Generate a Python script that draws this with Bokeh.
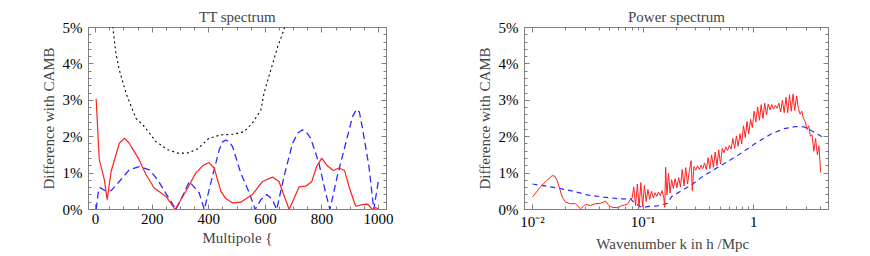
from bokeh.plotting import figure
from bokeh.layouts import row
from bokeh.models import (SingleIntervalTicker, FixedTicker, LinearAxis, LogAxis,
                          PrintfTickFormatter, CustomJSTickFormatter, Range1d)
from bokeh.embed import file_html
from bokeh.resources import INLINE

# ---------------- data: TT spectrum ----------------
ell_red = [2, 13, 31, 41, 55, 84, 102, 119, 154, 178, 207, 249, 281, 319, 354, 378, 401,
           419, 443, 460, 484, 513, 554, 590, 625, 648, 684, 719, 743, 764, 781, 799,
           819, 840, 860, 880, 895, 919, 948, 962, 978, 988, 1000]
tt_red = [3.04, 1.37, 0.82, 0.27, 1.05, 1.82, 1.96, 1.82, 1.37, 0.96, 0.59, 0.36, 0.0,
          0.50, 1.00, 1.20, 1.29, 1.14, 0.50, 0.30, 0.18, 0.20, 0.41, 0.77, 0.89, 0.77,
          0.0, 0.62, 0.64, 0.77, 1.18, 1.41, 1.20, 1.07, 1.14, 1.07, 0.64, 0.09, 0.14,
          0.15, 0.0, 0.05, 0.02]

ell_blue = [2, 11, 16, 37, 55, 84, 119, 154, 190, 219, 255, 284, 313, 331, 366, 384,
            413, 437, 448, 460, 472, 484, 513, 543, 564, 584, 605, 625, 640, 666, 696,
            715, 731, 745, 760, 789, 813, 828, 854, 884, 908, 922, 932, 942, 966, 983,
            1001]
tt_blue = [0.0, 0.55, 0.60, 0.50, 0.52, 0.77, 1.09, 1.18, 1.09, 0.82, 0.36, 0.0, 0.46,
           0.77, 0.46, 0.0, 0.91, 1.64, 1.85, 1.91, 1.86, 1.73, 1.00, 0.46, 0.0, 0.27,
           0.41, 0.27, 0.0, 0.91, 1.82, 2.10, 2.19, 2.12, 1.96, 1.28, 0.46, 0.0, 0.91,
           1.82, 2.55, 2.75, 2.68, 2.28, 1.18, 0.0, 0.87]

ell_black = [55, 61, 72, 84, 108, 131, 143, 172, 213, 255, 290, 325, 360, 401, 443,
             490, 525, 554, 584, 595, 619, 643, 666, 675]
tt_black = [5.3, 5.0, 4.28, 3.83, 3.19, 2.73, 2.50, 2.28, 1.87, 1.64, 1.55, 1.55, 1.66,
            1.96, 2.05, 2.07, 2.14, 2.37, 2.73, 3.19, 3.83, 4.46, 4.95, 5.3]

# ---------------- data: power spectrum ----------------
log10k_red = [-2.0, -1.928, -1.87, -1.822, -1.80, -1.776, -1.731, -1.701, -1.656, -1.611,
              -1.566, -1.520, -1.475, -1.430, -1.385, -1.339, -1.309, -1.279, -1.233,
              -1.188, -1.143, -1.113,
              -1.100, -1.084, -1.068, -1.052, -1.036, -1.020, -1.004, -0.988,
              -0.972, -0.956, -0.940, -0.924, -0.908, -0.892, -0.876,
              -0.860, -0.844, -0.828, -0.812, -0.804, -0.796, -0.784, -0.770, -0.756,
              -0.742, -0.726, -0.710, -0.694, -0.678,
              -0.662, -0.646, -0.630, -0.614, -0.598, -0.582, -0.566, -0.555,
              -0.540, -0.524, -0.508, -0.492, -0.476, -0.460, -0.444, -0.428,
              -0.412, -0.396, -0.380, -0.364, -0.348, -0.332, -0.316, -0.300, -0.284,
              -0.268, -0.252, -0.236, -0.220,
              -0.204, -0.188, -0.172, -0.156, -0.140, -0.124, -0.108,
              -0.092, -0.076, -0.060, -0.044, -0.028,
              -0.012, 0.004, 0.020, 0.036, 0.052, 0.068, 0.084, 0.100, 0.116,
              0.132, 0.148, 0.164, 0.180, 0.196, 0.212, 0.228,
              0.244, 0.260, 0.276, 0.292, 0.308, 0.324, 0.340, 0.356, 0.372, 0.388,
              0.404, 0.420, 0.436, 0.450,
              0.466, 0.482, 0.498, 0.512,
              0.528, 0.544, 0.560, 0.576, 0.590, 0.600, 0.606]
pk_red = [0.34, 0.62, 0.80, 0.93, 0.92, 0.79, 0.34, 0.20, 0.16, 0.16,
          0.02, 0.14, 0.11, 0.16, 0.17, 0.23, 0.11, 0.06, 0.05,
          0.11, 0.14, 0.29,
          0.30, 0.62, 0.10, 0.70, 0.06, 0.74, 0.08, 0.66,
          0.22, 0.55, 0.28, 0.50, 0.32, 0.46, 0.36,
          0.48, 0.38, 0.52, 0.30, 0.06, 1.16, 0.40, 1.00, 0.45,
          0.82, 0.58, 0.85, 0.60, 0.88,
          0.62, 1.10, 0.65, 1.15, 0.70, 1.05, 1.34, 0.52,
          1.18, 1.08, 1.20, 1.10, 1.22, 1.12, 1.28, 1.10,
          1.42, 1.12, 1.50, 1.16, 1.58, 1.20, 1.64, 1.25, 1.68,
          1.56, 1.72, 1.62, 1.76,
          1.66, 1.95, 1.68, 2.02, 1.74, 2.08, 1.80,
          2.30, 1.98, 2.42, 2.08, 2.48,
          2.25, 2.70, 2.40, 2.82, 2.45, 2.88, 2.50, 2.92, 2.60,
          2.90, 2.74, 2.88, 2.76, 2.86, 2.78, 2.92,
          2.68, 3.00, 2.66, 3.08, 2.66, 3.15, 2.70, 3.17, 2.72, 3.12,
          2.78, 2.62, 2.70, 2.50,
          2.42, 2.20, 2.30, 2.02,
          2.05, 1.60, 1.95, 1.50, 1.75, 1.30, 1.02]

log10k_blue = [-2.0, -1.81, -1.656, -1.505, -1.355, -1.2, -1.113, -1.068, -1.007, -0.962,
               -0.87, -0.78, -0.74, -0.57, -0.45, -0.30, -0.147, 0.003, 0.154, 0.275,
               0.38, 0.455, 0.516, 0.606, 0.63]
pk_blue = [0.70, 0.61, 0.52, 0.40, 0.34, 0.29, 0.29, 0.16, 0.05, 0.08,
           0.10, 0.17, 0.36, 0.66, 0.93, 1.20, 1.48, 1.79, 2.07, 2.22,
           2.28, 2.27, 2.18, 2.02, 1.99]

x_ticks_tt = 200
k_major = [0.01, 0.1, 1]
k_minor = [0.02, 0.03, 0.04, 0.05, 0.06, 0.07, 0.08, 0.09,
           0.2, 0.3, 0.4, 0.5, 0.6, 0.7, 0.8, 0.9, 2, 3, 4]
k_labels = ["10\u207b\u00b2", "10\u207b\u00b9", "1"]

FONT = "Liberation Serif"
GRAY = "#808080"


def style(p, xticker, yticker, log=False):
    xb = p.below[0]
    yl = p.left[0]
    p.outline_line_color = GRAY
    p.outline_line_width = 1
    p.xgrid.visible = False
    p.ygrid.visible = False
    p.title.text_font = FONT
    p.title.text_font_style = "normal"
    p.title.text_font_size = "15px"
    p.title.align = "center"
    p.title.standoff = 6
    for ax in (xb, yl):
        ax.axis_line_color = GRAY
        ax.major_tick_line_color = GRAY
        ax.minor_tick_line_color = GRAY
        ax.major_tick_in = 5
        ax.major_tick_out = 0
        ax.minor_tick_in = 3
        ax.minor_tick_out = 0
        ax.major_label_text_font = FONT
        ax.major_label_text_font_size = "15px"
        ax.axis_label_text_font = FONT
        ax.axis_label_text_font_size = "15px"
        ax.axis_label_text_font_style = "normal"
        ax.major_label_text_color = "black"
    xb.ticker = xticker
    yl.ticker = yticker
    xb.major_label_standoff = 4
    xb.axis_label_standoff = 3
    yl.major_label_standoff = 6
    yl.axis_label_standoff = 3
    yl.formatter = PrintfTickFormatter(format="%d%%")
    top = (LogAxis if log else LinearAxis)(ticker=xticker,
                                            formatter=CustomJSTickFormatter(code="return ''"))
    right = LinearAxis(ticker=yticker, formatter=CustomJSTickFormatter(code="return ''"))
    for ax in (top, right):
        ax.axis_line_color = None
        ax.major_tick_line_color = GRAY
        ax.minor_tick_line_color = GRAY
        ax.major_tick_in = 5
        ax.major_tick_out = 0
        ax.minor_tick_in = 3
        ax.minor_tick_out = 0
        ax.major_label_standoff = 0
        ax.major_label_text_font_size = "1px"
    p.add_layout(top, "above")
    p.add_layout(right, "right")
    return xb, yl


# ---------------- left: TT spectrum ----------------
p1 = figure(width=435, height=254, title="TT spectrum", output_backend="svg",
            toolbar_location=None, x_range=Range1d(-25, 1028), y_range=Range1d(0, 5),
            min_border_left=88, min_border_right=49, min_border_top=27,
            min_border_bottom=44)
p1.line(ell_black, tt_black, line_color="black", line_width=1.1, line_dash="2 3")
p1.line(ell_blue, tt_blue, line_color="#2b2bff", line_width=1.3, line_dash="7 4")
p1.line(ell_red, tt_red, line_color="#ff2020", line_width=1.2)
xb1, yl1 = style(p1, SingleIntervalTicker(interval=x_ticks_tt, num_minor_ticks=4),
                 SingleIntervalTicker(interval=1, num_minor_ticks=5))
xb1.axis_label = "Multipole {"
yl1.axis_label = "Difference with CAMB"

# ---------------- right: power spectrum ----------------
k_red = [10 ** v for v in log10k_red]
k_blue = [10 ** v for v in log10k_blue]
p2 = figure(width=428, height=254, title="Power spectrum", output_backend="svg",
            toolbar_location=None, x_axis_type="log", x_range=Range1d(0.00847, 4.75),
            y_range=Range1d(0, 5), min_border_left=89, min_border_right=35,
            min_border_top=27, min_border_bottom=44)
p2.line(k_blue, pk_blue, line_color="#2b2bff", line_width=1.2, line_dash="5 4")
p2.line(k_red, pk_red, line_color="#ff2020", line_width=1.0)
xt2 = FixedTicker(ticks=k_major, minor_ticks=k_minor)
xb2, yl2 = style(p2, xt2, SingleIntervalTicker(interval=1, num_minor_ticks=5), log=True)
xb2.formatter = CustomJSTickFormatter(
    args=dict(labels=k_labels),
    code="const i = Math.round(Math.log10(tick)) + 2; return labels[i] ?? '';")
xb2.axis_label = "Wavenumber k  in  h /Mpc"
yl2.axis_label = "Difference with CAMB"

layout = row(p1, p2)
open("out.html", "w").write(file_html(layout, INLINE))
